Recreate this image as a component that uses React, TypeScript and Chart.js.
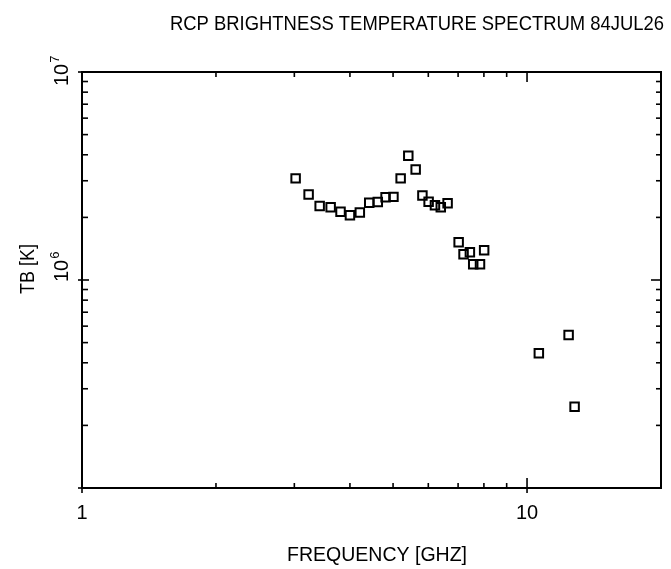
import React, { useEffect, useRef } from "react";
import { Chart, registerables } from "chart.js";

Chart.register(...registerables);

// ---- data ----
const FREQ_GHZ = [
  3.02, 3.23, 3.42, 3.62, 3.81, 4.0, 4.21, 4.42, 4.62, 4.81, 5.01, 5.2, 5.41,
  5.62, 5.82, 6.01, 6.21, 6.4, 6.63, 7.02, 7.2, 7.44, 7.57, 7.84, 8.01, 10.63,
  12.4, 12.79,
];
const TB_K = [
  3.08e6, 2.58e6, 2.27e6, 2.24e6, 2.13e6, 2.05e6, 2.11e6, 2.35e6, 2.37e6,
  2.5e6, 2.51e6, 3.08e6, 3.96e6, 3.4e6, 2.55e6, 2.38e6, 2.29e6, 2.24e6,
  2.34e6, 1.52e6, 1.33e6, 1.36e6, 1.19e6, 1.19e6, 1.39e6, 4.44e5, 5.44e5,
  2.46e5,
];

const X_MIN = 1;
const X_MAX = 20;
const Y_MIN = 1e5;
const Y_MAX = 1e7;

const X_MAJOR = [1, 10];
const X_MAJOR_LABELS = ["1", "10"];
const X_MINOR = [2, 3, 4, 5, 6, 7, 8, 9, 20];
const Y_MAJOR = [1e5, 1e6, 1e7];
const Y_MAJOR_LABELS = [
  { value: 1e6, base: "10", exp: "6" },
  { value: 1e7, base: "10", exp: "7" },
];
const Y_MINOR = [
  2e5, 3e5, 4e5, 5e5, 6e5, 7e5, 8e5, 9e5, 2e6, 3e6, 4e6, 5e6, 6e6, 7e6, 8e6,
  9e6,
];

const TITLE = "RCP BRIGHTNESS TEMPERATURE SPECTRUM 84JUL26";
const X_TITLE = "FREQUENCY [GHZ]";
const Y_TITLE = "TB [K]";

const FONT = '"Liberation Sans", "DejaVu Sans", sans-serif';

function fitText(
  ctx: CanvasRenderingContext2D,
  text: string,
  x: number,
  y: number,
  width: number
) {
  // draws text left-aligned at (x, y), squeezed/stretched to the given width
  const w = ctx.measureText(text).width;
  const s = width / w;
  ctx.save();
  ctx.translate(x, y);
  ctx.scale(s, 1);
  ctx.textAlign = "left";
  ctx.fillText(text, 0, 0);
  ctx.restore();
}

const framePlugin = {
  id: "framePlugin",
  afterDraw(chart: any) {
    const ctx: CanvasRenderingContext2D = chart.ctx;
    const { left, right, top, bottom } = chart.chartArea;
    const xs = chart.scales.x;
    const ys = chart.scales.y;
    ctx.save();
    ctx.strokeStyle = "#000";
    ctx.fillStyle = "#000";
    ctx.lineWidth = 2;
    ctx.strokeRect(left, top, right - left, bottom - top);

    ctx.lineWidth = 1.6;
    const line = (x1: number, y1: number, x2: number, y2: number) => {
      ctx.beginPath();
      ctx.moveTo(x1, y1);
      ctx.lineTo(x2, y2);
      ctx.stroke();
    };
    X_MINOR.forEach((v) => {
      const px = xs.getPixelForValue(v);
      line(px, bottom, px, bottom - 5);
      line(px, top, px, top + 5);
    });
    X_MAJOR.forEach((v) => {
      const px = xs.getPixelForValue(v);
      line(px, bottom + 5, px, bottom - 10);
      line(px, top, px, top + 10);
    });
    Y_MINOR.forEach((v) => {
      const py = ys.getPixelForValue(v);
      line(left, py, left + 6, py);
      line(right - 5, py, right, py);
    });
    Y_MAJOR.forEach((v) => {
      const py = ys.getPixelForValue(v);
      line(left - 4, py, left + 7, py);
      line(right - 10, py, right, py);
    });

    // x tick labels
    ctx.font = `20px ${FONT}`;
    ctx.textAlign = "center";
    ctx.textBaseline = "alphabetic";
    X_MAJOR.forEach((v, i) => {
      const px = xs.getPixelForValue(v);
      ctx.fillText(X_MAJOR_LABELS[i], px, 519);
    });

    // y tick labels, rotated, with superscript exponent
    Y_MAJOR_LABELS.forEach((lab) => {
      const py = ys.getPixelForValue(lab.value);
      const start = Math.max(py + 2, top + 14);
      ctx.save();
      ctx.translate(68, start);
      ctx.rotate(-Math.PI / 2);
      ctx.textAlign = "left";
      ctx.font = `20px ${FONT}`;
      ctx.fillText(lab.base, 0, 0);
      const bw = ctx.measureText(lab.base).width;
      ctx.font = `13px ${FONT}`;
      ctx.fillText(lab.exp, bw + 1, -9);
      ctx.restore();
    });

    // title
    ctx.font = `21px ${FONT}`;
    ctx.textBaseline = "alphabetic";
    fitText(ctx, TITLE, 170, 30, 494);

    // x axis title
    fitText(ctx, X_TITLE, 287, 561, 180);

    // y axis title
    ctx.save();
    ctx.translate(34, 294);
    ctx.rotate(-Math.PI / 2);
    fitText(ctx, Y_TITLE, 0, 0, 50);
    ctx.restore();

    ctx.restore();
  },
};

export default function App() {
  const ref = useRef<HTMLCanvasElement | null>(null);
  useEffect(() => {
    if (!ref.current) return;
    const chart = new Chart(ref.current, {
      type: "scatter",
      data: {
        datasets: [
          {
            data: FREQ_GHZ.map((f, i) => ({ x: f, y: TB_K[i] })),
            pointStyle: "rect",
            pointRadius: 6,
            pointHoverRadius: 6,
            borderColor: "#000",
            backgroundColor: "rgba(0,0,0,0)",
            borderWidth: 2,
            showLine: false,
          },
        ],
      },
      options: {
        animation: false,
        responsive: false,
        maintainAspectRatio: false,
        events: [],
        layout: { padding: { left: 82, right: 10, top: 72, bottom: 81 } },
        plugins: {
          legend: { display: false },
          tooltip: { enabled: false },
          title: { display: false },
        },
        scales: {
          x: { type: "logarithmic", min: X_MIN, max: X_MAX, display: false },
          y: { type: "logarithmic", min: Y_MIN, max: Y_MAX, display: false },
        },
      },
      plugins: [framePlugin],
    });
    return () => chart.destroy();
  }, []);
  return (
    <div style={{ position: "absolute", left: 0, top: 0, width: 671, height: 569, background: "#fff" }}>
      <canvas ref={ref} width={671} height={569} style={{ display: "block" }} />
    </div>
  );
}
